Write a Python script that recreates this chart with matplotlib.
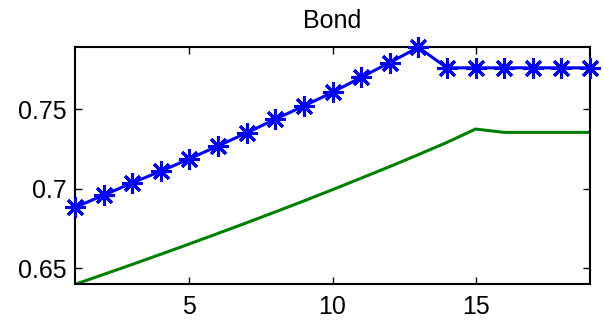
import matplotlib
matplotlib.use("Agg")
import matplotlib.pyplot as plt

x = list(range(1, 20))
blue = [0.6884, 0.6960, 0.7038, 0.7111, 0.7189, 0.7270, 0.7352, 0.7438, 0.7521, 0.7607,
        0.7701, 0.7794, 0.7890, 0.7761, 0.7761, 0.7761, 0.7761, 0.7761, 0.7761]
green = [0.6400, 0.6462, 0.6525, 0.6589, 0.6654, 0.6720, 0.6787, 0.6855, 0.6924, 0.6995,
         0.7067, 0.7140, 0.7215, 0.7292, 0.7376, 0.7355, 0.7355, 0.7355, 0.7355]
xticks = [5, 10, 15]
yticks = [0.65, 0.70, 0.75]
yticklabels = ["0.65", "0.7", "0.75"]
title = "Bond"

plt.rcParams['font.family'] = ['Liberation Sans', 'DejaVu Sans']
fig = plt.figure(figsize=(6.03, 3.25), dpi=100)
ax = fig.add_axes([75/603, 1-284.3/325, (590-75)/603, (284.3-47.3)/325])
ax.plot(x, green, color='#008000', lw=2.2, zorder=2)
ax.plot(x, blue, color='#0000ff', lw=2.2, marker=(8, 2, 0), markersize=15,
        markeredgewidth=2.2, zorder=3, clip_on=False)
ax.set_xlim(1, 19)
ax.set_ylim(0.64, 0.789)
ax.set_xticks(xticks)
ax.set_yticks(yticks)
ax.set_yticklabels(yticklabels)
ax.tick_params(direction='in', length=5, width=1, top=True, right=True,
               labelsize=18)
ax.tick_params(axis='x', pad=8)
ax.tick_params(axis='y', pad=6)
for s in ax.spines.values():
    s.set_linewidth(1.5)
ax.set_title(title, fontsize=18, pad=14)
fig.savefig("out.png", dpi=100)
